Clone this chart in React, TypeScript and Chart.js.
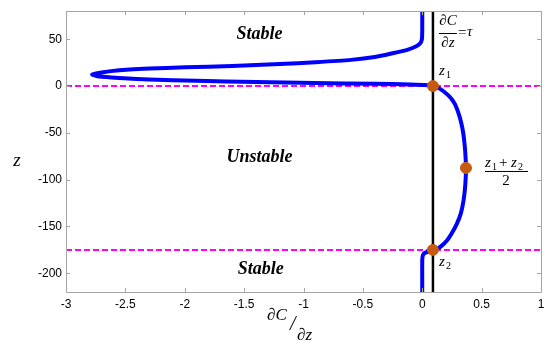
import React, { useEffect, useRef } from 'react';
import { Chart, registerables } from 'chart.js';
Chart.register(...registerables);

// Curve dC/dz vs z (traced)
const curveX = [
  0.0, 0.0, -0.003, -0.015, -0.05, -0.12, -0.25, -0.4, -0.6, -0.9, -1.2, -1.6, -2.0, -2.3, -2.55, -2.7, -2.78,
  -2.72, -2.55, -2.3, -1.9, -1.4, -0.9, -0.4, -0.1, 0.05, 0.09,
  0.15, 0.22, 0.27, 0.3, 0.326, 0.345, 0.36, 0.368, 0.362, 0.348, 0.325, 0.292, 0.25, 0.208, 0.16, 0.124, 0.09,
  0.06, 0.02, 0.005, 0.0, 0.0,
];
const curveZ = [
  80, 60, 50, 46, 42.5, 39, 35, 31, 28, 25.5, 23.5, 21.5, 20, 18.8, 16.8, 14.5, 12.4,
  10.3, 8.7, 7.0, 5.6, 4.3, 3.3, 2.4, 1.8, 1.0, 0,
  -3, -10, -18, -27, -38, -50, -67, -88, -106, -122, -136, -147, -157, -165, -171, -174, -175,
  -176.5, -178.3, -181, -186, -220,
];
const tau = 0.09;
const thresholdZ = [0, -175];
const markerX = [0.09, 0.368, 0.09];
const markerZ = [0, -87.5, -175];
const xTicks = [-3, -2.5, -2, -1.5, -1, -0.5, 0, 0.5, 1];
const yTicks = [-200, -150, -100, -50, 0, 50];
const xRange = [-3, 1];
const yRange = [-220, 80];
const regionLabels = ['Stable', 'Unstable', 'Stable'];
const regionX = [-1.37, -1.37, -1.36];
const regionZ = [55.3, -76.6, -195.7];

const SERIF = '"Liberation Serif", "DejaVu Serif", serif';
const SANS = '"Liberation Sans", Arial, sans-serif';

const annotPlugin = {
  id: 'annot',
  afterDraw(chart: any) {
    const { ctx, chartArea: ca, scales } = chart;
    const xs = scales.x, ys = scales.y;
    ctx.save();
    // box
    ctx.strokeStyle = '#a6a6a6';
    ctx.lineWidth = 1;
    ctx.beginPath();
    ctx.rect(Math.round(ca.left) + 0.5, Math.round(ca.top) + 0.5, Math.round(ca.right - ca.left), Math.round(ca.bottom - ca.top));
    ctx.stroke();
    // inward ticks
    ctx.beginPath();
    for (const v of xTicks) {
      const px = Math.round(xs.getPixelForValue(v)) + 0.5;
      ctx.moveTo(px, ca.bottom); ctx.lineTo(px, ca.bottom - 4);
      ctx.moveTo(px, ca.top); ctx.lineTo(px, ca.top + 4);
    }
    for (const v of yTicks) {
      const py = Math.round(ys.getPixelForValue(v)) + 0.5;
      ctx.moveTo(ca.left, py); ctx.lineTo(ca.left + 4, py);
      ctx.moveTo(ca.right, py); ctx.lineTo(ca.right - 4, py);
    }
    ctx.stroke();

    // region labels
    ctx.fillStyle = '#000';
    ctx.textAlign = 'center';
    ctx.textBaseline = 'middle';
    ctx.font = `bold italic 18px ${SERIF}`;
    regionLabels.forEach((t, i) => {
      ctx.fillText(t, xs.getPixelForValue(regionX[i]), ys.getPixelForValue(regionZ[i]));
    });

    // y title
    ctx.font = `italic 19px ${SERIF}`;
    ctx.fillText('z', 17, 161);

    // x title  ∂C / ∂z
    ctx.font = `italic 17px ${SERIF}`;
    ctx.textAlign = 'left';
    ctx.fillText('∂C', 267, 316);
    ctx.font = `italic 20px ${SERIF}`;
    ctx.fillText('/', 290, 325);
    ctx.font = `italic 17px ${SERIF}`;
    ctx.fillText('∂z', 297, 336);

    // tau fraction
    const fx = xs.getPixelForValue(tau) + 6;
    ctx.font = `italic 15px ${SERIF}`;
    ctx.textAlign = 'center';
    ctx.fillText('∂C', fx + 9, 21);
    ctx.fillText('∂z', fx + 9, 43);
    ctx.lineWidth = 1;
    ctx.strokeStyle = '#000';
    ctx.beginPath();
    ctx.moveTo(fx, 33.5); ctx.lineTo(fx + 18, 33.5);
    ctx.stroke();
    ctx.textAlign = 'left';
    ctx.font = `15px ${SERIF}`;
    ctx.fillText('=', fx + 19, 33);
    ctx.font = `italic 15px ${SERIF}`;
    ctx.fillText('τ', fx + 28, 32);

    // z1, z2
    const drawSub = (x: number, y: number, sub: string) => {
      ctx.textAlign = 'left';
      ctx.font = `italic 15px ${SERIF}`;
      ctx.fillText('z', x, y);
      ctx.font = `10px ${SERIF}`;
      ctx.fillText(sub, x + 7, y + 4);
    };
    drawSub(fx, ys.getPixelForValue(thresholdZ[0]) - 15, '1');
    drawSub(fx, ys.getPixelForValue(thresholdZ[1]) + 12, '2');

    // midpoint fraction
    const mx = 506, my = ys.getPixelForValue(markerZ[1]);
    ctx.textAlign = 'left';
    const ny = my - 5;
    let cx = 485;
    ctx.font = `italic 15px ${SERIF}`; ctx.fillText('z', cx, ny); cx += 7;
    ctx.font = `10px ${SERIF}`; ctx.fillText('1', cx, ny + 4); cx += 7;
    ctx.font = `15px ${SERIF}`; ctx.fillText('+', cx, ny); cx += 12;
    ctx.font = `italic 15px ${SERIF}`; ctx.fillText('z', cx, ny); cx += 7;
    ctx.font = `10px ${SERIF}`; ctx.fillText('2', cx, ny + 4);
    ctx.beginPath();
    ctx.moveTo(485, my + 3.5); ctx.lineTo(528, my + 3.5);
    ctx.stroke();
    ctx.textAlign = 'center';
    ctx.font = `15px ${SERIF}`;
    ctx.fillText('2', mx, my + 13);
    ctx.restore();
  },
};

export default function App() {
  const ref = useRef<HTMLCanvasElement | null>(null);
  useEffect(() => {
    if (!ref.current) return;
    const chart = new Chart(ref.current, {
      type: 'scatter',
      data: {
        datasets: [
          {
            label: 'markers',
            data: markerX.map((x, i) => ({ x, y: markerZ[i] })),
            backgroundColor: '#c55a11',
            borderColor: '#c55a11',
            pointRadius: 5.5,
            showLine: false,
            order: 0,
          },
          {
            label: 'tau',
            data: [{ x: tau, y: yRange[1] }, { x: tau, y: yRange[0] }],
            borderColor: '#000',
            borderWidth: 2.5,
            pointRadius: 0,
            showLine: true,
            order: 1,
          },
          {
            label: 'curve',
            data: curveX.map((x, i) => ({ x, y: curveZ[i] })),
            borderColor: '#0000ff',
            borderWidth: 4,
            pointRadius: 0,
            showLine: true,
            tension: 0.2,
            order: 2,
          },
          ...thresholdZ.map((z, k) => ({
            label: 'th' + k,
            data: [{ x: xRange[0], y: z }, { x: xRange[1], y: z }],
            borderColor: '#ff00ff',
            borderWidth: 2,
            borderDash: [6, 3],
            pointRadius: 0,
            showLine: true,
            order: 3,
          })),
        ],
      },
      options: {
        animation: false,
        responsive: false,
        layout: { padding: { top: 10, right: 12, left: 0, bottom: 0 } },
        plugins: { legend: { display: false }, tooltip: { enabled: false } },
        scales: {
          x: {
            type: 'linear',
            min: xRange[0],
            max: xRange[1],
            grid: { display: false, drawTicks: false },
            border: { display: false },
            ticks: { color: '#000', font: { family: SANS, size: 12 }, padding: 5, callback: (v: any) => String(v) },
            afterBuildTicks: (s: any) => { s.ticks = xTicks.map((v) => ({ value: v })); },
            afterFit: (s: any) => { s.height = 58; },
          },
          y: {
            type: 'linear',
            min: yRange[0],
            max: yRange[1],
            grid: { display: false, drawTicks: false },
            border: { display: false },
            ticks: { color: '#000', font: { family: SANS, size: 12 }, padding: 4, callback: (v: any) => String(v) },
            afterBuildTicks: (s: any) => { s.ticks = yTicks.map((v) => ({ value: v })); },
            afterFit: (s: any) => { s.width = 66; },
          },
        },
      },
      plugins: [annotPlugin],
    } as any);
    return () => chart.destroy();
  }, []);
  return (
    <div style={{ position: 'absolute', left: 0, top: 0, width: 553, height: 350, background: '#fff' }}>
      <canvas ref={ref} width={553} height={350} />
    </div>
  );
}
